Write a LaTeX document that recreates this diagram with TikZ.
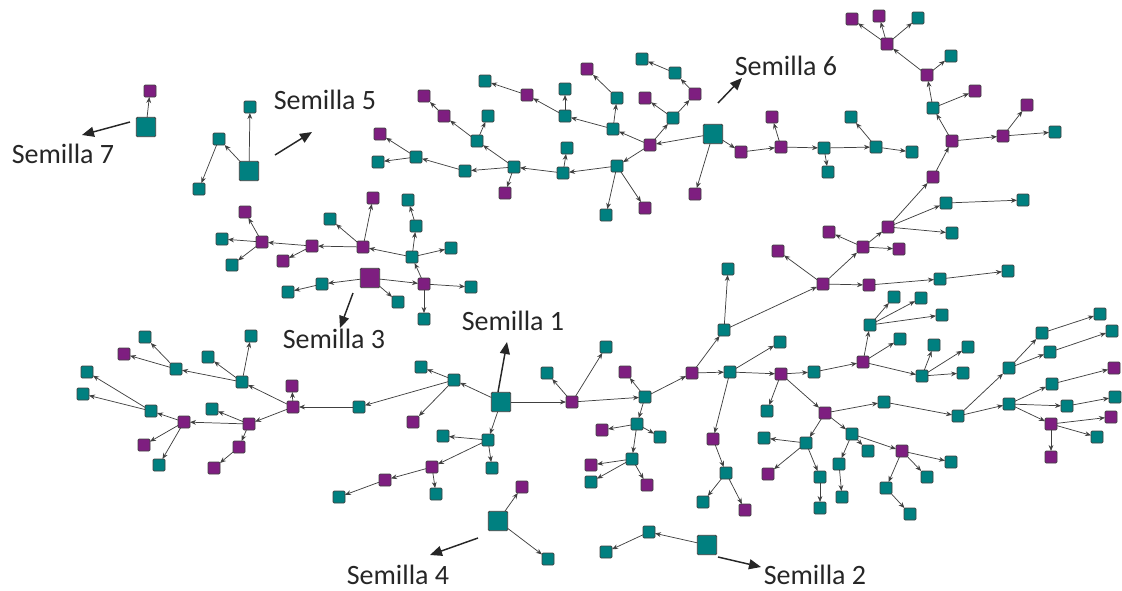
\documentclass[tikz,border=0pt]{standalone}
\usepackage{fontspec}
\setmainfont{Carlito}
\usetikzlibrary{arrows.meta}
\definecolor{tealc}{RGB}{0,128,128}
\definecolor{purp}{RGB}{126,30,128}
\begin{document}
\begin{tikzpicture}[x=0.75pt,y=-0.75pt,
  nd/.style={draw=black!75, line width=0.55pt, rounded corners=0.8pt, minimum size=9pt, inner sep=0pt, outer sep=0pt},
  tn/.style={nd, fill=tealc},
  pn/.style={nd, fill=purp},
  tb/.style={nd, fill=tealc, minimum size=14.5pt},
  pb/.style={nd, fill=purp, minimum size=14.5pt},
  ed/.style={draw=black!75, line width=0.55pt, -{Stealth[length=4.5pt,width=3.6pt]}},
  lab/.style={font=\fontsize{21}{25}\selectfont, text=black!85, inner sep=0pt},
  la/.style={draw=black!85, line width=1.1pt, -{Triangle[length=9pt,width=7.5pt]}}]
\useasboundingbox (0,0) rectangle (1122,590);
% seeds
\foreach \n/\x/\y in {s1/501/402, s2/707/545, s4/498/521, s5/249/171, s6/713/134, s7/146/127}
  \node[tb] (\n) at (\x,\y) {};
\node[pb] (s3) at (370,278) {};
% teal nodes
\foreach \n/\x/\y in {b1/250/107, b2/219/139, b3/199/189,
 c4/824/148, c5/828/172, c6/876/147, c7/851/117, c8/912/152,
 d2/613/129, d3/617/98, d5/565/116, d6/565/89, d8/485/81,
 e1/673/118, e4/675/73, e5/642/59,
 f1/617/166, f2/606/215, f4/563/173, f5/567/148, f6/514/167, f7/477/141,
 g1/488/116, g3/465/171, g4/416/157, g6/378/162,
 h4/918/18, h6/951/56, h7/933/108, i3/1055/132, i6/946/203, i7/1023/200, i8/952/233,
 j6/940/279, j7/1008/271,
 k1/724/330, k2/728/269, k4/730/372, k5/645/397, k7/637/424, k9/660/437, l1/632/459, l3/591/482,
 l6/726/473, l7/703/502,
 m2/606/347, m3/547/373,
 n1/780/342, n2/814/372, n4/870/325, n5/894/297, n6/921/298, n7/942/315, n8/900/339, n9/922/376,
 o1/934/345, o2/968/347, o3/963/373,
 o4/767/411, o6/884/402, o7/958/416, o8/1009/368, o9/1009/404, p1/1042/333, p2/1100/314,
 p3/1050/352, p4/1112/331, p5/1052/384, p7/1067/406, p8/1115/397, q2/1097/437,
 q4/806/443, q5/764/438, q7/820/477, q8/820/508, q9/852/434, r1/868/451, r2/839/464, r3/842/497,
 r5/886/488, r6/910/514, r7/927/477, r8/951/462,
 t1/488/440, t2/443/436, t3/492/468, t5/436/494, t7/339/497,
 u1/454/380, u2/421/367, u3/359/407,
 v3/242/382, v4/251/336, v5/208/357, v6/176/369, v7/145/337,
 w1/212/409, w5/151/411, w6/87/372, w7/83/394, w9/159/465,
 x1/322/284, x2/288/292, x4/471/287, x5/424/319, x6/412/257, x7/398/302, x8/416/226, x9/408/200,
 y1/451/248, y4/330/219, y9/222/239, z1/232/265,
 z3/548/559, z4/649/532, z5/606/552}
  \node[tn] (\n) at (\x,\y) {};
% purple nodes
\foreach \n/\x/\y in {a1/150/91,
 c1/741/152, c2/781/147, c3/772/117, c9/695/194,
 d1/650/145, d4/587/69, d7/527/95, e2/645/98, e3/695/94,
 f3/645/208, f8/444/116, f9/424/96, g2/505/193, g5/380/134,
 h1/887/44, h2/852/19, h3/879/16, h5/927/75, h8/975/91, h9/952/141, i1/1003/136, i2/1027/105,
 i4/933/177, i5/888/227, i9/863/247, j1/829/232, j2/899/249, j3/823/284, j4/778/251, j5/869/285,
 k3/692/373, k6/625/372, k8/602/430, l2/591/465, l4/647/485, l5/713/439, l8/745/510, l9/781/374,
 m1/572/402, n3/863/362, o5/825/413, p6/1114/368, p9/1051/424, q1/1111/417, q3/1051/457,
 q6/768/474, r4/902/451,
 t4/432/467, t6/385/480, u4/413/422,
 v1/293/407, v2/292/386, v8/124/354, v9/249/424, w2/239/447, w3/214/468, w4/184/422, w8/144/445,
 x3/424/284, y2/363/247, y3/373/198, y5/312/246, y6/283/261, y7/262/242, y8/245/212,
 z2/522/487}
  \node[pn] (\n) at (\x,\y) {};
% edges
\foreach \a/\b in {s7/a1, s5/b1, s5/b2, b2/b3,
 s6/c1, c1/c2, c2/c3, c2/c4, c4/c5, c4/c6, c6/c7, c6/c8, s6/c9, s6/d1,
 d1/d2, d2/d3, d3/d4, d2/d5, d5/d6, d5/d7, d7/d8,
 d1/e1, e1/e2, e1/e3, e3/e4, e4/e5,
 d1/f1, f1/f2, f1/f3, f1/f4, f4/f5, f4/f6, f6/f7, f7/f8, f8/f9, f7/g1, f6/g2, f6/g3, g3/g4, g4/g5, g4/g6,
 h1/h2, h1/h3, h1/h4, h5/h1, h5/h6, h7/h5, h7/h8, h9/h7, h9/i1, i1/i2, i1/i3, i4/h9,
 i5/i4, i5/i6, i6/i7, i5/i8, i9/i5, i9/j1, i9/j2, j3/i9, j3/j4, j3/j5, j5/j6, j6/j7,
 k1/j3, k1/k2, k3/k1, k3/k4, k5/k3, k5/k6, k5/k7,
 s1/m1, m1/k5, m1/m2, m1/m3,
 k7/k8, k7/k9, k7/l1, l1/l2, l1/l3, l1/l4,
 k4/l5, l5/l6, l6/l7, l6/l8, k4/l9, k4/n1,
 l9/n2, n2/n3, n3/n4, n4/n5, n4/n6, n4/n7, n3/n8, n3/n9, n9/o1, n9/o2, n9/o3,
 l9/o4, l9/o5, o5/o6, o6/o7, o7/o8, o7/o9, o8/p1, p1/p2, o8/p3, p3/p4, o9/p5, p5/p6, o9/p7, p7/p8,
 o9/p9, p9/q1, p9/q2, p9/q3,
 o5/q4, q4/q5, q4/q6, q4/q7, q7/q8, o5/q9, q9/r1, q9/r2, r2/r3, q9/r4, r4/r5, r5/r6, r4/r7, r4/r8,
 s1/t1, t1/t2, t1/t3, t1/t4, t4/t5, t4/t6, t6/t7,
 s1/u1, u1/u2, u1/u3, u1/u4, u3/v1,
 v1/v2, v1/v3, v3/v4, v3/v5, v3/v6, v6/v7, v6/v8,
 v1/v9, v9/w1, v9/w2, w2/w3, v9/w4, w4/w5, w5/w6, w5/w7, w4/w8, w4/w9,
 s3/x1, x1/x2, s3/x3, x3/x4, x3/x5, x3/x6, s3/x7, x6/x8, x8/x9, x6/y1, x6/y2,
 y2/y3, y2/y4, y2/y5, y5/y6, y5/y7, y7/y8, y7/y9, y7/z1,
 s4/z2, s4/z3, s2/z4, z4/z5}
  \draw[ed] (\a) -- (\b);
% labels
\node[lab] (L7) at (63,154) {Semilla 7};
\node[lab] (L5) at (325,100) {Semilla 5};
\node[lab] (L6) at (786,66) {Semilla 6};
\node[lab] (L3) at (334,339) {Semilla 3};
\node[lab] (L1) at (513,321) {Semilla 1};
\node[lab] (L4) at (398,575) {Semilla 4};
\node[lab] (L2) at (815,575) {Semilla 2};
% label arrows
\coordinate (a7s) at (130,122); \coordinate (a7e) at (82,135);
\coordinate (a5s) at (275,155); \coordinate (a5e) at (312,132);
\coordinate (a6s) at (718,103); \coordinate (a6e) at (742,78);
\coordinate (a3s) at (353,293); \coordinate (a3e) at (340,328);
\coordinate (a1s) at (498,392); \coordinate (a1e) at (507,342);
\coordinate (a4s) at (478,538); \coordinate (a4e) at (430,555);
\coordinate (a2s) at (718,557); \coordinate (a2e) at (761,567);
\foreach \p in {7,5,6,3,1,4,2}
  \draw[la] (a\p s) -- (a\p e);
\end{tikzpicture}
\end{document}
